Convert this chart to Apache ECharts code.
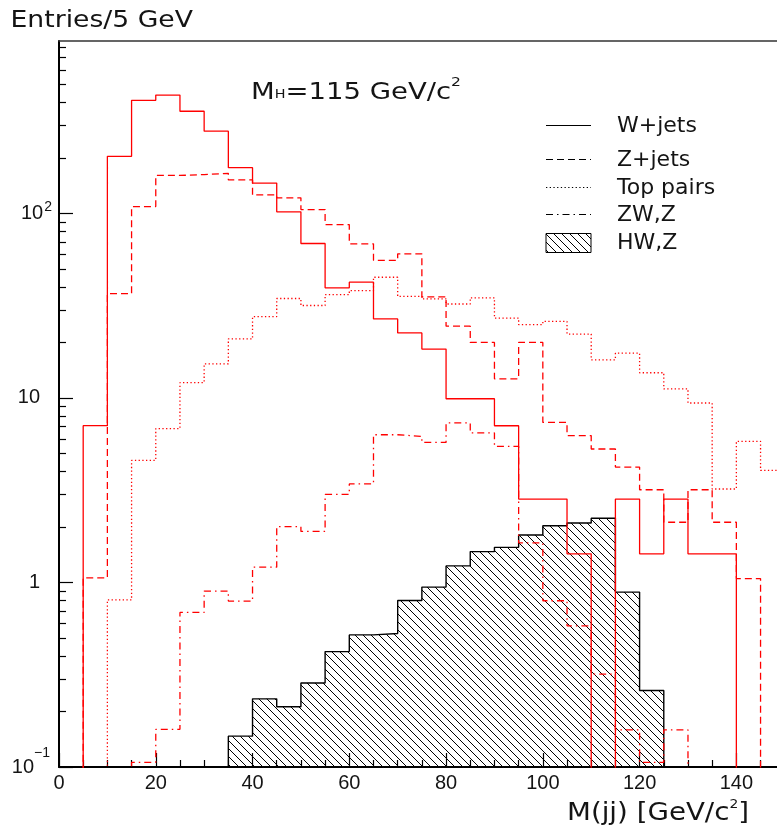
<!DOCTYPE html>
<html>
<head>
<meta charset="utf-8">
<script src="https://cdn.jsdelivr.net/npm/echarts@6/dist/echarts.min.js"></script>
<style>
  html, body { margin: 0; padding: 0; background: #fff; }
  #chart { width: 777px; height: 834px; }
</style>
</head>
<body>
<div id="chart"></div>
<script>
// Dijet invariant mass, 5 GeV bins starting at 0
const binStart = 0;
const binWidth = 5;

const wJets = [0, 7.08, 204, 410, 438, 358, 279, 177, 146, 102, 68.7, 39.5, 42.4, 26.8, 22.5,
               18.4, 9.9, 9.9, 7.07, 2.83, 2.83, 1.43, 0, 2.83, 1.43, 2.83, 1.43, 1.43, 0, 0];
const zJets = [0, 1.06, 36.8, 109, 160.6, 162.5, 165, 152, 126, 121.5, 105, 87, 68.4, 55.7, 60.4,
               35.3, 24.5, 20, 12.7, 20, 7.37, 6.25, 5.29, 4.22, 3.18, 2.12, 3.18, 2.12, 1.05, 0];
const topPairs = [0, 0, 0.805, 4.59, 6.82, 12.1, 15.3, 20.9, 27.6, 34.6, 31.7, 36.3, 38.2, 45.1, 35.5,
                  34.4, 32.3, 34.9, 27.1, 25.0, 26.0, 22.2, 16.1, 17.5, 13.7, 11.2, 9.39, 3.21, 5.82, 4.05];
const zwZ = [0, 0, 0, 0.106, 0.160, 0.688, 0.898, 0.793, 1.21, 2.01, 1.89, 3.0, 3.42, 6.32, 6.19,
             5.74, 7.32, 6.46, 5.47, 1.64, 0.796, 0.582, 0.319, 0.159, 0.106, 0.159, 0, 0, 0, 0];
const hwZ = [0, 0, 0, 0, 0, 0, 0, 0.147, 0.234, 0.212, 0.285, 0.422, 0.520, 0.529, 0.799,
             0.944, 1.23, 1.47, 1.55, 1.81, 2.03, 2.10, 2.23, 0.887, 0.260, 0, 0, 0, 0, 0];

const xMajorTicks = [0, 20, 40, 60, 80, 100, 120, 140];
const xMinorTicks = [5, 10, 15, 25, 30, 35, 45, 50, 55, 65, 70, 75, 85, 90, 95,
                     105, 110, 115, 125, 130, 135, 145];
const yMajorTicks = [0.1, 1, 10, 100];
const yMinorTicks = [0.2, 0.3, 0.4, 0.5, 0.6, 0.7, 0.8, 0.9,
                     2, 3, 4, 5, 6, 7, 8, 9,
                     20, 30, 40, 50, 60, 70, 80, 90,
                     200, 300, 400, 500, 600, 700, 800];

// visible x window (the frame runs off the right edge of the page)
const xMin = 0;
const xMax = 148.4;
const yMin = 0.1;
const yMax = 860;

const legendNames = ['W+jets', 'Z+jets', 'Top pairs', 'ZW,Z', 'HW,Z'];

const INK = '#141414';
const RED = '#ff0000';
const DASH = [7, 4];
const DOT = [1.3, 2.4];
const DASHDOT = [7, 4, 1.5, 4];

// empty bins fall below the log axis and get clipped away
const EMPTY = 1e-4;
function histogramPoints(counts) {
  const pts = counts.map((c, i) => [binStart + i * binWidth, c > 0 ? c : EMPTY]);
  pts.push([binStart + counts.length * binWidth, pts[pts.length - 1][1]]);
  return pts;
}

// diagonal hatch tile
const hatchTile = (function () {
  const c = document.createElement('canvas');
  c.width = 8; c.height = 8;
  const g = c.getContext('2d');
  g.strokeStyle = '#000';
  g.lineWidth = 1;
  g.beginPath();
  g.moveTo(-1, -1); g.lineTo(9, 9);
  g.moveTo(-1, 7); g.lineTo(1, 9);
  g.moveTo(7, -1); g.lineTo(9, 1);
  g.stroke();
  return c;
})();
const hatch = { image: hatchTile, repeat: 'repeat' };

const measureCtx = document.createElement('canvas').getContext('2d');
function textWidth(str, size) {
  measureCtx.font = size + 'px "DejaVu Sans"';
  return measureCtx.measureText(str).width;
}
function textPiece(x, y, t, size) {
  return {
    type: 'text', x: x, y: y,
    style: { text: t, font: size + 'px "DejaVu Sans"', fill: INK,
             textAlign: 'left', textVerticalAlign: 'middle', align: 'left', verticalAlign: 'middle' }
  };
}
// a run of text pieces [text, size, dy] stretched to span left..right
function textRun(left, right, cy, pieces) {
  let w = 0;
  const children = [];
  pieces.forEach(p => {
    children.push(textPiece(w, p[2], p[0], p[1]));
    w += textWidth(p[0], p[1]);
  });
  return { type: 'group', x: left, y: cy, scaleX: (right - left) / w, children: children };
}

function lineSeries(name, counts, dash) {
  return {
    type: 'line', name: name, step: 'end', data: histogramPoints(counts),
    symbol: 'none', showSymbol: false, clip: true, silent: true,
    lineStyle: { color: RED, width: 1.3, type: dash }
  };
}

const legendX1 = 546, legendX2 = 591, legendTextX = 617;
const legendRows = [126, 160, 188, 215, 243];
const legendDash = [null, DASH, DOT, DASHDOT];

const graphics = [
  textRun(10.5, 193, 21, [['Entries/5 GeV', 23, 0]]),
  textRun(251, 461, 93.5, [['M', 23, 0], ['H', 12, 1], ['=115 GeV/c', 23, 0], ['2', 13, -11]]),
  textRun(567, 749, 814, [['M(jj) [GeV/c', 24, 0], ['2', 12, -9], [']', 24, 0]])
];
legendNames.forEach((name, i) => {
  const y = legendRows[i];
  if (i < 4) {
    graphics.push({
      type: 'line',
      shape: { x1: legendX1, y1: y - 0.5, x2: legendX2, y2: y - 0.5 },
      style: { stroke: '#000', lineWidth: 1, lineDash: legendDash[i] || null }
    });
  } else {
    graphics.push({
      type: 'rect',
      shape: { x: legendX1, y: y - 9.5, width: legendX2 - legendX1, height: 19 },
      style: { fill: hatch, stroke: '#000', lineWidth: 1 }
    });
  }
  graphics.push(textPiece(legendTextX, y, name, 22));
});

const tickFamily = 'Liberation Sans';

const option = {
  animation: false,
  grid: { left: 59, right: 0, top: 41, bottom: 67, show: false },
  xAxis: [{
    type: 'value', min: xMin, max: xMax, interval: 20,
    axisLine: { show: true, onZero: false, lineStyle: { color: '#000', width: 2 } },
    axisTick: { show: true, inside: true, length: 14, customValues: xMajorTicks,
                lineStyle: { color: '#000', width: 1.2 } },
    axisLabel: { show: true, customValues: xMajorTicks, margin: 6, fontSize: 20,
                 fontFamily: tickFamily, color: INK },
    splitLine: { show: false }
  }, {
    type: 'value', min: xMin, max: xMax, position: 'bottom',
    axisLine: { show: false },
    axisTick: { show: true, inside: true, length: 7, customValues: xMinorTicks,
                lineStyle: { color: '#000', width: 1.2 } },
    axisLabel: { show: false },
    splitLine: { show: false }
  }, {
    // upper frame edge
    type: 'value', min: xMin, max: xMax, position: 'top',
    axisLine: { show: true, onZero: false, lineStyle: { color: '#333', width: 1.6 } },
    axisTick: { show: false },
    axisLabel: { show: false },
    splitLine: { show: false }
  }],
  yAxis: [{
    type: 'log', logBase: 10, min: yMin, max: yMax,
    axisLine: { show: true, onZero: false, lineStyle: { color: '#000', width: 2 } },
    axisTick: { show: true, inside: true, length: 14, customValues: yMajorTicks,
                lineStyle: { color: '#000', width: 1.2 } },
    axisLabel: {
      show: true, customValues: yMajorTicks, margin: 7,
      formatter: function (v) {
        const e = Math.round(Math.log10(v));
        if (e === 0) return '{n|1}';
        if (e === 1) return '{n|10}';
        if (e < 0) return '{b|10}{m|\u2212' + (-e) + '}';
        return '{b|10}{s|' + e + '}';
      },
      rich: {
        n: { fontSize: 20, fontFamily: tickFamily, color: INK, lineHeight: 20, padding: [0, 12, 0, 0] },
        b: { fontSize: 20, fontFamily: tickFamily, color: INK, lineHeight: 20 },
        s: { fontSize: 14, fontFamily: tickFamily, color: INK, lineHeight: 14, padding: [0, 0, 13, 1] },
        m: { fontSize: 14, fontFamily: tickFamily, color: INK, lineHeight: 14, padding: [0, 2, 28, 0] }
      }
    },
    splitLine: { show: false }
  }, {
    type: 'log', logBase: 10, min: yMin, max: yMax, position: 'left',
    axisLine: { show: false },
    axisTick: { show: true, inside: true, length: 7, customValues: yMinorTicks,
                lineStyle: { color: '#000', width: 1.2 } },
    axisLabel: { show: false },
    splitLine: { show: false }
  }],
  series: [
    {
      type: 'line', name: legendNames[4], step: 'end', data: histogramPoints(hwZ),
      symbol: 'none', showSymbol: false, clip: true, silent: true,
      lineStyle: { color: '#000', width: 1.4 },
      areaStyle: { origin: 'start', color: hatch, opacity: 1 }
    },
    lineSeries(legendNames[3], zwZ, DASHDOT),
    lineSeries(legendNames[2], topPairs, DOT),
    lineSeries(legendNames[1], zJets, DASH),
    lineSeries(legendNames[0], wJets, 'solid')
  ],
  graphic: graphics
};

const chart = echarts.init(document.getElementById('chart'), null, { renderer: 'canvas' });
chart.setOption(option);
</script>
</body>
</html>
